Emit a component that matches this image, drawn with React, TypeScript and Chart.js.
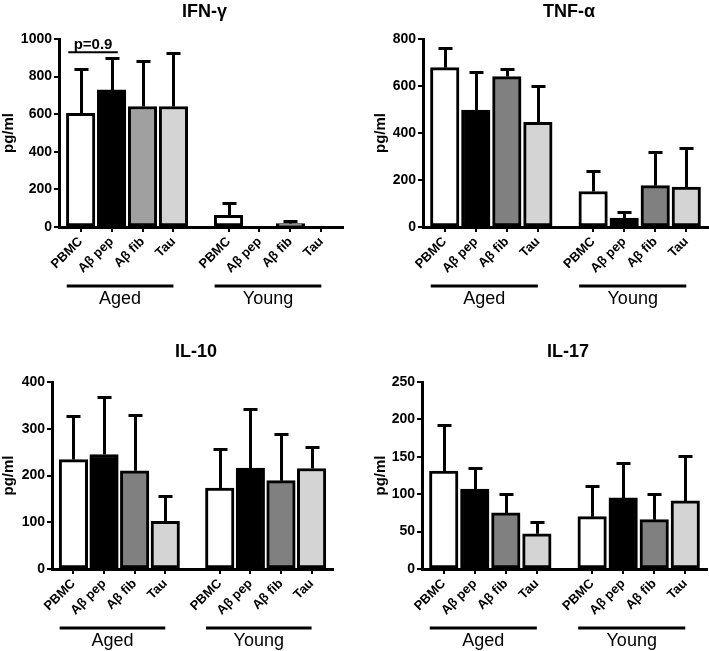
import React, { useEffect, useRef } from 'react';
import { Chart, registerables } from 'chart.js';

Chart.register(...registerables);

// ---------- data ----------
const groupNames = ['Aged', 'Young'];
const stimulusLabels = ['PBMC', 'Aβ pep', 'Aβ fib', 'Tau'];
const panelTitles = ['IFN-γ', 'TNF-α', 'IL-10', 'IL-17'];
const yAxisLabel = 'pg/ml';
const yMaxima = [1000, 800, 400, 250];
const yStepSizes = [200, 200, 100, 50];

// order: Aged PBMC, Aged Aβ pep, Aged Aβ fib, Aged Tau, Young PBMC, Young Aβ pep, Young Aβ fib, Young Tau
const ifnMeans = [605, 729, 641, 641, 62, 0, 18, 0];
const ifnErrors = [236, 168, 242, 286, 64, 0, 16, 0];
const tnfMeans = [678, 498, 640, 445, 151, 38, 176, 170];
const tnfErrors = [82, 163, 31, 153, 88, 27, 144, 166];
const il10Means = [234, 245, 210, 102, 173, 216, 189, 215];
const il10Errors = [94, 122, 119, 55, 83, 126, 99, 45];
const il17Means = [131, 107, 75, 47, 70, 95, 66, 91];
const il17Errors = [62, 28, 25, 16, 41, 47, 34, 60];

const pValueText = 'p=0.9';
const pValueLevel = 930;

// ---------- layout / style ----------
const GROUP_OFFSET = 4.78;
const X_MIN = -0.7;
const X_MAX = 8.48;
const FONT = "'Liberation Sans', Arial, Helvetica, sans-serif";

const xPositions: number[] = [];
const xLabels: string[] = [];
groupNames.forEach((_, g) => {
  stimulusLabels.forEach((lab, i) => {
    xPositions.push(i + g * GROUP_OFFSET);
    xLabels.push(lab);
  });
});

type PanelCfg = {
  title: string;
  means: number[];
  errors: number[];
  yMax: number;
  step: number;
  fibColor: string;
  box: { left: number; top: number; width: number; height: number };
  area: { left: number; right: number; top: number; bottom: number };
  yTitlePad: number;
  titleY: number;
  pValue: boolean;
};

const PANELS: PanelCfg[] = [
  {
    title: panelTitles[0], means: ifnMeans, errors: ifnErrors, yMax: yMaxima[0], step: yStepSizes[0],
    fibColor: '#a0a0a0',
    box: { left: 0, top: 0, width: 354, height: 320 },
    area: { left: 59, right: 343, top: 39, bottom: 227 },
    yTitlePad: 0, titleY: 12, pValue: true,
  },
  {
    title: panelTitles[1], means: tnfMeans, errors: tnfErrors, yMax: yMaxima[1], step: yStepSizes[1],
    fibColor: '#808080',
    box: { left: 354, top: 0, width: 355, height: 320 },
    area: { left: 69, right: 354, top: 39, bottom: 227 },
    yTitlePad: 18, titleY: 12, pValue: false,
  },
  {
    title: panelTitles[2], means: il10Means, errors: il10Errors, yMax: yMaxima[2], step: yStepSizes[2],
    fibColor: '#808080',
    box: { left: 0, top: 320, width: 354, height: 331 },
    area: { left: 52, right: 333, top: 62, bottom: 249 },
    yTitlePad: 0, titleY: 32, pValue: false,
  },
  {
    title: panelTitles[3], means: il17Means, errors: il17Errors, yMax: yMaxima[3], step: yStepSizes[3],
    fibColor: '#808080',
    box: { left: 354, top: 320, width: 355, height: 331 },
    area: { left: 68, right: 353, top: 62, bottom: 249 },
    yTitlePad: 18, titleY: 32, pValue: false,
  },
];

function Panel({ cfg }: { cfg: PanelCfg }) {
  const ref = useRef<HTMLCanvasElement>(null);

  useEffect(() => {
    const canvas = ref.current;
    if (!canvas) return;
    const { box, area } = cfg;
    const colors = ['#ffffff', '#000000', cfg.fibColor, '#d4d4d4'];

    const extras = {
      id: 'extras',
      afterDatasetsDraw(chart: any) {
        const ctx = chart.ctx as CanvasRenderingContext2D;
        const xs = chart.scales.x;
        const ys = chart.scales.y;
        const ca = chart.chartArea;
        const meta = chart.getDatasetMeta(0);
        ctx.save();
        ctx.strokeStyle = '#000';
        ctx.fillStyle = '#000';
        ctx.lineCap = 'butt';

        // error bars (upper)
        ctx.lineWidth = 3;
        cfg.errors.forEach((e, i) => {
          if (!e) return;
          const px = Math.round(meta.data[i].x) + 0.5;
          const y0 = ys.getPixelForValue(cfg.means[i]);
          const y1 = Math.round(ys.getPixelForValue(cfg.means[i] + e)) + 0.5;
          ctx.beginPath();
          ctx.moveTo(px, y0);
          ctx.lineTo(px, y1 - 1.5);
          ctx.moveTo(px - 7, y1);
          ctx.lineTo(px + 7, y1);
          ctx.stroke();
        });

        // group lines + labels
        groupNames.forEach((name, g) => {
          const x0 = xs.getPixelForValue(g * GROUP_OFFSET - 0.45);
          const x1 = xs.getPixelForValue(g * GROUP_OFFSET + 3.0);
          const ly = ca.bottom + 59;
          ctx.lineWidth = 3;
          ctx.beginPath();
          ctx.moveTo(x0, ly);
          ctx.lineTo(x1, ly);
          ctx.stroke();
          ctx.font = `18px ${FONT}`;
          ctx.textAlign = 'center';
          ctx.textBaseline = 'middle';
          ctx.fillText(name, (x0 + x1) / 2, ca.bottom + 72);
        });

        // p-value bracket
        if (cfg.pValue) {
          const x0 = xs.getPixelForValue(-0.4);
          const x1 = xs.getPixelForValue(1.2);
          const py = ys.getPixelForValue(pValueLevel);
          ctx.lineWidth = 2;
          ctx.beginPath();
          ctx.moveTo(x0, py);
          ctx.lineTo(x1, py);
          ctx.stroke();
          ctx.font = `bold 15px ${FONT}`;
          ctx.textAlign = 'center';
          ctx.textBaseline = 'alphabetic';
          ctx.fillText(pValueText, (x0 + x1) / 2, py - 3);
        }

        // panel title
        ctx.font = `bold 18px ${FONT}`;
        ctx.textAlign = 'center';
        ctx.textBaseline = 'middle';
        ctx.fillText(cfg.title, (ca.left + ca.right) / 2 + 3.5, cfg.titleY);
        ctx.restore();
      },
    };

    const chart = new Chart(canvas, {
      type: 'bar',
      data: {
        datasets: [
          {
            data: cfg.means.map((m, i) => ({ x: xPositions[i], y: m })),
            backgroundColor: cfg.means.map((_, i) => colors[i % 4]),
            borderColor: '#000',
            borderWidth: 3,
            borderSkipped: false,
            barThickness: 28.5,
          } as any,
        ],
      },
      options: {
        responsive: false,
        animation: false,
        events: [],
        layout: {
          padding: { left: 0, top: area.top, right: box.width - area.right, bottom: 0 },
        },
        plugins: {
          legend: { display: false },
          tooltip: { enabled: false },
          title: { display: false },
        },
        scales: {
          x: {
            type: 'linear',
            min: X_MIN,
            max: X_MAX,
            offset: false,
            afterBuildTicks: (scale: any) => {
              scale.ticks = xPositions.map((v) => ({ value: v }));
            },
            afterFit: (scale: any) => {
              scale.height = box.height - area.bottom;
            },
            ticks: {
              autoSkip: false,
              minRotation: 45,
              maxRotation: 45,
              padding: 2,
              color: '#000',
              font: { family: FONT, size: 13, weight: 'bold' },
              callback: (_v: any, i: number) => xLabels[i],
            },
            grid: {
              offset: false,
              drawOnChartArea: false,
              drawTicks: true,
              tickLength: 5,
              lineWidth: 2,
              color: '#000',
            },
            border: { display: true, width: 3, color: '#000' },
          },
          y: {
            type: 'linear',
            min: 0,
            max: cfg.yMax,
            afterFit: (scale: any) => {
              scale.width = area.left;
            },
            ticks: {
              stepSize: cfg.step,
              padding: 2,
              color: '#000',
              font: { family: FONT, size: 14, weight: 'bold' },
              callback: (v: any) => String(v),
            },
            grid: {
              drawOnChartArea: false,
              drawTicks: true,
              tickLength: 5,
              lineWidth: 2,
              color: '#000',
            },
            border: { display: true, width: 3, color: '#000' },
            title: {
              display: true,
              text: yAxisLabel,
              color: '#000',
              font: { family: FONT, size: 15, weight: 'bold' },
              padding: { top: cfg.yTitlePad, bottom: 0 },
            },
          },
        },
      } as any,
      plugins: [extras],
    });
    return () => chart.destroy();
  }, [cfg]);

  return (
    <canvas
      ref={ref}
      width={cfg.box.width}
      height={cfg.box.height}
      style={{ position: 'absolute', left: cfg.box.left, top: cfg.box.top, width: cfg.box.width, height: cfg.box.height }}
    />
  );
}

export default function App() {
  return (
    <div style={{ position: 'absolute', left: 0, top: 0, width: 709, height: 651, background: '#fff', overflow: 'hidden' }}>
      {PANELS.map((p) => (
        <Panel key={p.title} cfg={p} />
      ))}
    </div>
  );
}
